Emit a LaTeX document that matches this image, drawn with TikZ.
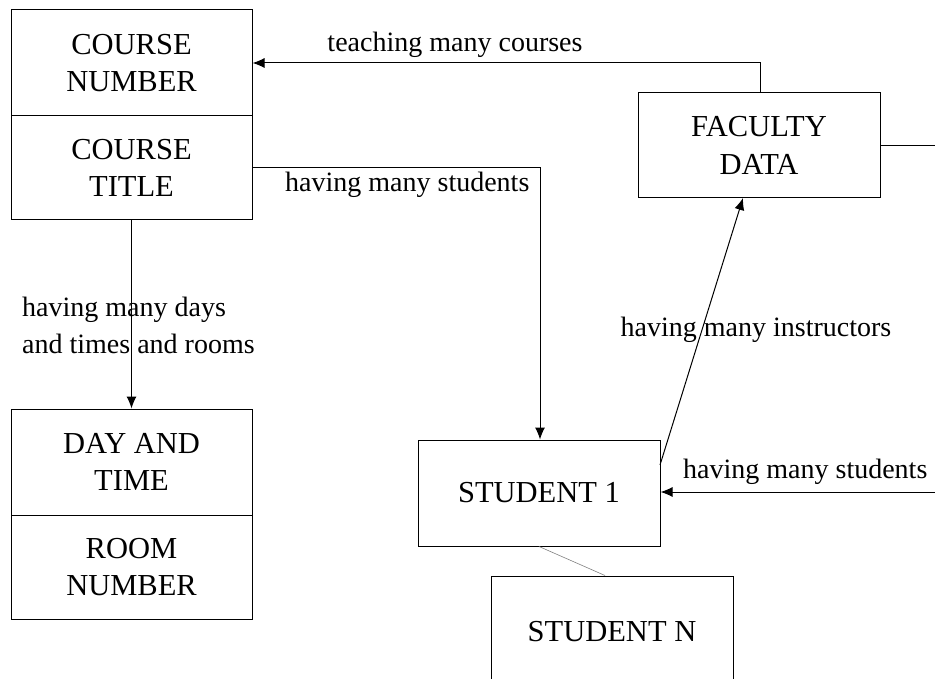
\documentclass[tikz,border=0pt]{standalone}
\usepackage{fontspec}
\setmainfont{Liberation Serif}
\usetikzlibrary{arrows.meta}
\begin{document}
\begin{tikzpicture}[x=1pt,y=-1pt,
  box/.style={draw,line width=1pt,minimum width=241pt,inner sep=0pt,align=center,font=\fontsize{30.5}{37.5}\selectfont},
  lbl/.style={inner sep=0pt,font=\fontsize{28}{37}\selectfont},
  conn/.style={line width=1pt},
  arr/.style={line width=1pt,-{Latex[length=12pt,width=10pt]}}]
\useasboundingbox (0,0) rectangle (935,679);
\clip (0,0) rectangle (935,679);
\node[box,minimum height=106pt] (cn) at (131.5,63) {COURSE\\NUMBER};
\node[box,minimum height=104pt] (ct) at (131.5,168) {COURSE\\TITLE};
\node[box,minimum height=106pt] (dt) at (131.5,462) {DAY AND\\TIME};
\node[box,minimum height=104pt] (rn) at (131.5,567) {ROOM\\NUMBER};
\node[box,minimum width=242pt,minimum height=105pt] (fd) at (759,145.5) {FACULTY\\DATA};
\node[box,minimum width=242pt,minimum height=106pt] (s1) at (539,493) {STUDENT 1};
\node[box,minimum width=242pt,minimum height=112pt] (sn) at (612,632) {STUDENT N};
\coordinate (fdtop) at (760,93);
\coordinate (c1) at (760,63);
\coordinate (c2) at (540,168);
\coordinate (redge) at (935,145.5);
\coordinate (redge2) at (935,492);
\coordinate (s1ne) at (660,465);
\coordinate (fdb) at (743,198);
\draw[arr] (fdtop) -- (c1) -- (cn.east |- c1);
\draw[arr] (ct.east |- c2) -- (c2) -- (s1.north -| c2);
\draw[arr] (ct.south) -- (dt.north);
\draw[arr] (s1ne) -- (fdb);
\draw[conn] (fd.east) -- (redge);
\draw[arr] (redge2) -- (s1.east |- redge2);
\draw[gray,line width=0.6pt] (s1.south) -- (sn.north -| 605,0);
\node[lbl] (l1) at (455,45) {teaching many courses};
\node[lbl,anchor=west] (l2) at (285,185) {having many students};
\node[lbl,anchor=west,align=left] (l3) at (22,325) {having many days\\and times and rooms};
\node[lbl] (l4) at (756,330) {having many instructors};
\node[lbl,anchor=west] (l5) at (683,472) {having many students};
\end{tikzpicture}
\end{document}
